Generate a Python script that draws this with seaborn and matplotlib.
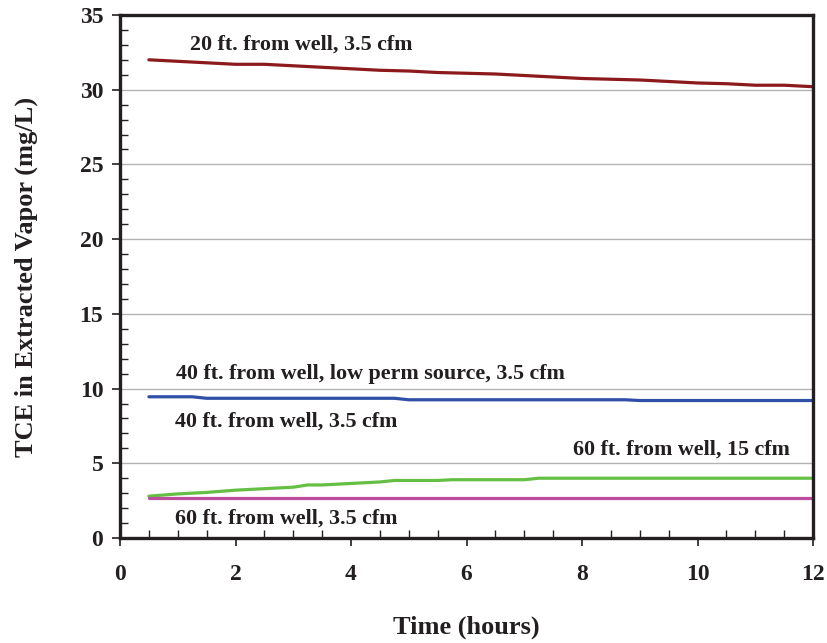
import numpy as np
import pandas as pd
import matplotlib
matplotlib.use("Agg")
import matplotlib.pyplot as plt
from matplotlib.ticker import MultipleLocator
import seaborn as sns

# Time axis (hours) and TCE concentrations (mg/L) for each extraction scenario
time_red = [0.5, 1.0, 1.5, 2.0, 2.5, 3.0, 3.5, 4.0, 4.5, 5.0, 5.5, 6.0,
            6.5, 7.0, 7.5, 8.0, 8.5, 9.0, 9.5, 10.0, 10.5, 11.0, 11.5, 12.0]
tce_20ft = [32.0, 31.9, 31.8, 31.7, 31.7, 31.6, 31.5, 31.4, 31.3, 31.25, 31.15, 31.1,
            31.05, 30.95, 30.85, 30.75, 30.7, 30.65, 30.55, 30.45, 30.4, 30.3, 30.3, 30.2]

time_blue = [0.5, 1.25, 1.5, 4.75, 5.0, 8.75, 9.0, 12.0]
tce_40ft_lowperm = [9.45, 9.45, 9.35, 9.35, 9.25, 9.25, 9.2, 9.2]

time_green = [0.5, 1.0, 1.5, 2.0, 2.5, 3.0, 3.25, 3.5, 4.0, 4.5, 4.75, 5.0,
              5.5, 5.75, 6.0, 7.0, 7.25, 8.0, 9.0, 10.0, 11.0, 12.0]
tce_60ft_15cfm = [2.8, 2.95, 3.05, 3.2, 3.3, 3.4, 3.55, 3.55, 3.65, 3.75, 3.85, 3.85,
                  3.85, 3.9, 3.9, 3.9, 4.0, 4.0, 4.0, 4.0, 4.0, 4.0]

time_mag = [0.5, 12.0]
tce_60ft_35cfm = [2.65, 2.65]

series_names = ["20 ft. from well, 3.5 cfm",
                "40 ft. from well, low perm source, 3.5 cfm",
                "60 ft. from well, 15 cfm",
                "60 ft. from well, 3.5 cfm"]
series_colors = ["#8c1a1c", "#2f50a6", "#66bf45", "#bd4b9e"]

frames = []
for name, t, v in zip(series_names,
                      [time_red, time_blue, time_green, time_mag],
                      [tce_20ft, tce_40ft_lowperm, tce_60ft_15cfm, tce_60ft_35cfm]):
    frames.append(pd.DataFrame({"time": t, "tce": v, "series": name}))
df = pd.concat(frames, ignore_index=True)

sns.set_style("white")
plt.rcParams["font.family"] = ["Liberation Serif", "DejaVu Serif"]
plt.rcParams["font.weight"] = "bold"

fig = plt.figure(figsize=(8.27, 6.43), dpi=100)
ax = fig.add_axes([0.1451, 0.1633, 0.8380, 0.8134])

for y in [5, 10, 15, 20, 25, 30]:
    ax.axhline(y, color="#b3b3b3", lw=1.0, zorder=0)

sns.lineplot(data=df, x="time", y="tce", hue="series", hue_order=series_names,
             palette=series_colors, linewidth=2.3, legend=False, ax=ax,
             estimator=None, sort=False)

ax.set_xlim(0, 12)
ax.set_ylim(0, 35)
ax.xaxis.set_major_locator(MultipleLocator(2))
ax.xaxis.set_minor_locator(MultipleLocator(0.5))
ax.yaxis.set_major_locator(MultipleLocator(5))
ax.yaxis.set_minor_locator(MultipleLocator(1))
ax.tick_params(which="both", bottom=True, left=True, top=False, right=False)
ax.tick_params(which="major", direction="out", length=6, width=1.2,
               color="#231f20", labelsize=17, labelcolor="#231f20")
ax.tick_params(which="minor", direction="in", length=6, width=1.0, color="#231f20")
ax.tick_params(axis="x", which="major", pad=13)
ax.tick_params(axis="y", which="major", pad=6)
for lab in ax.get_xticklabels() + ax.get_yticklabels():
    lab.set_fontweight("bold")

for s in ax.spines.values():
    s.set_color("#231f20")
    s.set_linewidth(2.4)

ax.set_xlabel("Time (hours)", fontsize=19, fontweight="bold", labelpad=22,
              color="#231f20")
ax.set_ylabel("TCE in Extracted Vapor (mg/L)", fontsize=19, fontweight="bold",
              labelpad=30, color="#231f20")

labels = [(1.21, 33.05, "20 ft. from well, 3.5 cfm"),
          (0.97, 10.98, "40 ft. from well, low perm source, 3.5 cfm"),
          (0.95, 7.76, "40 ft. from well, 3.5 cfm"),
          (7.84, 5.89, "60 ft. from well, 15 cfm"),
          (0.95, 1.27, "60 ft. from well, 3.5 cfm")]
for x, y, t in labels:
    ax.text(x, y, t, fontsize=15.8, fontweight="bold", color="#231f20",
            ha="left", va="center")

fig.savefig("out.png", dpi=100)
